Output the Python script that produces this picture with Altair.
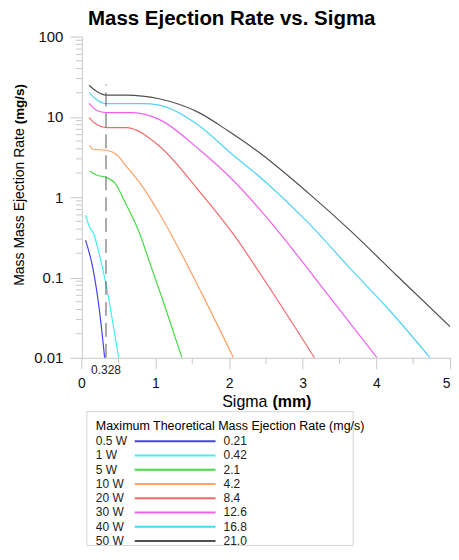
import altair as alt
import pandas as pd

FONT = "Liberation Sans"

series = ["0.5 W", "1 W", "5 W", "10 W", "20 W", "30 W", "40 W", "50 W"]
max_rates = ["0.21", "0.42", "2.1", "4.2", "8.4", "12.6", "16.8", "21.0"]
colors = ["#4444ee", "#44eeee", "#44dd44", "#ffa066", "#f46a6a", "#f060f0", "#4ed4f4", "#505050"]

x_05 = [0.05, 0.152, 0.242, 0.31]
y_05 = [0.292, 0.128, 0.037, 0.01]

x_1 = [0.05, 0.108, 0.152, 0.242, 0.332, 0.42, 0.50]
y_1 = [0.597, 0.42, 0.364, 0.187, 0.079, 0.0277, 0.01]

x_5 = [0.108, 0.198, 0.332, 0.444, 0.60, 0.78, 0.92, 1.14, 1.36]
y_5 = [2.12, 1.89, 1.76, 1.52, 0.818, 0.364, 0.155, 0.0406, 0.01]

x_10 = [0.108, 0.15, 0.332, 0.467, 0.60, 0.825, 1.05, 1.27, 1.63, 2.06]
y_10 = [4.47, 3.95, 3.84, 3.42, 2.45, 1.35, 0.63, 0.275, 0.063, 0.01]

x_20 = [0.098, 0.198, 0.332, 0.60, 1.05, 1.59, 2.04, 2.53, 3.16]
y_20 = [9.77, 8.07, 7.34, 7.34, 4.34, 1.2, 0.364, 0.079, 0.01]

x_30 = [0.098, 0.198, 0.332, 0.69, 1.05, 1.59, 2.04, 2.53, 3.07, 3.65, 4.01]
y_30 = [14.7, 12.1, 11.3, 11.3, 9.31, 3.95, 1.67, 0.533, 0.128, 0.0264, 0.01]

x_40 = [0.098, 0.198, 0.332, 0.825, 1.05, 1.59, 1.99, 2.53, 3.07, 3.65, 4.19, 4.73]
y_40 = [20.0, 16.5, 14.6, 14.6, 14.0, 7.8, 3.76, 1.45, 0.485, 0.128, 0.038, 0.01]

x_50 = [0.098, 0.198, 0.332, 0.60, 1.05, 1.59, 1.99, 2.40, 3.07, 3.65, 4.28, 5.0]
y_50 = [24.8, 20.9, 18.7, 18.7, 16.8, 11.3, 6.66, 3.65, 1.14, 0.381, 0.105, 0.0245]

xs = [x_05, x_1, x_5, x_10, x_20, x_30, x_40, x_50]
ys = [y_05, y_1, y_5, y_10, y_20, y_30, y_40, y_50]

marker_x = [0.328]
marker_top = [25.4]
marker_label = ["0.328"]

x_major = [1, 2, 3, 4, 5]
x_zero = [0]
x_minor = [0.5, 1.5, 2.5, 3.5, 4.5]
y_major = [0.01, 0.1, 1, 10, 100]
y_minor = [round(k * m, 6) for k in [0.01, 0.1, 1, 10] for m in range(2, 10)]

rows = []
for s, xv, yv in zip(series, xs, ys):
    for a, b in zip(xv, yv):
        rows.append({"series": s, "sigma": a, "rate": b})
df = pd.DataFrame(rows)

AX = "#c8c8c8"

x_enc = alt.X(
    "sigma:Q",
    scale=alt.Scale(domain=[0, 5], nice=False, zero=False),
    axis=alt.Axis(
        values=x_major, format="d", tickSize=11, labelFlush=True,
        tickColor=AX, domainColor=AX, grid=False,
        labelFont=FONT, labelFontSize=14, labelColor="#111",
        labelPadding=8, title=None,
    ),
)
y_enc = alt.Y(
    "rate:Q",
    scale=alt.Scale(type="log", domain=[0.01, 100], nice=False),
    axis=alt.Axis(
        values=y_major, format="~g", tickSize=12,
        tickColor=AX, domainColor=AX, grid=False,
        labelFont=FONT, labelFontSize=15, labelColor="#111",
        labelPadding=7, title=None,
    ),
)

color_scale = alt.Scale(domain=series, range=colors)

lines = alt.Chart(df).mark_line(strokeWidth=1.2, clip=True, interpolate="monotone").encode(
    x=x_enc, y=y_enc,
    color=alt.Color("series:N", scale=color_scale, legend=None),
)

yminor = alt.Chart(pd.DataFrame({"v": y_minor})).mark_rule(color=AX, strokeWidth=1).encode(
    y=alt.Y("v:Q"), x=alt.value(-6), x2=alt.value(0)
)
xminor = alt.Chart(pd.DataFrame({"v": x_minor})).mark_rule(color=AX, strokeWidth=1).encode(
    x=alt.X("v:Q"), y=alt.value(322), y2=alt.value(328)
)
zdf = pd.DataFrame({"v": x_zero, "t": [str(v) for v in x_zero]})
xzero_tick = alt.Chart(zdf).mark_rule(color=AX, strokeWidth=1).encode(
    x=alt.X("v:Q"), y=alt.value(322), y2=alt.value(333)
)
xzero_label = alt.Chart(zdf).mark_text(font=FONT, fontSize=14, color="#111", baseline="top").encode(
    x=alt.X("v:Q"), y=alt.value(341), text="t:N"
)

mdf = pd.DataFrame({"x": marker_x, "y1": [0.01], "y2": marker_top, "label": marker_label})
marker = alt.Chart(mdf).mark_rule(strokeDash=[14, 7], color="#555", strokeWidth=1).encode(
    x="x:Q", y="y1:Q", y2="y2:Q"
)
marker_text = alt.Chart(mdf).mark_text(font=FONT, fontSize=12, color="#222", baseline="middle").encode(
    x="x:Q", y=alt.value(334), text="label:N"
)

def label(txt, **kw):
    return alt.Chart(pd.DataFrame({"t": [txt]})).mark_text(font=FONT, color="#000", baseline="middle", **kw)

xt1 = label("Sigma", fontSize=16, align="right").encode(x=alt.value(186), y=alt.value(366), text="t:N")
xt2 = label("(mm)", fontSize=16, fontWeight="bold", align="left").encode(x=alt.value(191), y=alt.value(366), text="t:N")
yt1 = label("Mass Mass Ejection Rate", fontSize=14, angle=270, align="right").encode(x=alt.value(-62), y=alt.value(92), text="t:N")
yt2 = label("(mg/s)", fontSize=13.5, fontWeight="bold", angle=270, align="left").encode(x=alt.value(-62), y=alt.value(88), text="t:N")

main = alt.layer(lines, yminor, xminor, xzero_tick, xzero_label, marker, marker_text,
                 xt1, xt2, yt1, yt2).properties(width=369, height=322)

ldf = pd.DataFrame({"series": series, "rate": max_rates})
row_y = alt.Y("series:N", sort=series, axis=None, scale=alt.Scale(type="point", range=[29.5, 129.5], padding=0))

box = alt.Chart(pd.DataFrame({"a": [0]})).mark_rect(fillOpacity=0, stroke="#d4d4d4", strokeWidth=1).encode(
    x=alt.value(5), x2=alt.value(272), y=alt.value(0), y2=alt.value(134)
)
ltitle = label("Maximum Theoretical Mass Ejection Rate (mg/s)", fontSize=12.5, align="left").encode(
    x=alt.value(14), y=alt.value(14), text="t:N"
)
lrules = alt.Chart(ldf).mark_rule(strokeWidth=2).encode(
    x=alt.value(53), x2=alt.value(134), y=row_y,
    color=alt.Color("series:N", scale=color_scale, legend=None),
)
lnames = alt.Chart(ldf).mark_text(font=FONT, fontSize=12, align="left", baseline="middle", color="#222").encode(
    x=alt.value(14), y=row_y, text="series:N"
)
lvals = alt.Chart(ldf).mark_text(font=FONT, fontSize=12, align="left", baseline="middle", color="#222").encode(
    x=alt.value(142), y=row_y, text="rate:N"
)
legend = alt.layer(box, ltitle, lrules, lnames, lvals).properties(width=272, height=134)

chart = alt.vconcat(main, legend, spacing=1).resolve_scale(
    x="independent", y="independent"
).properties(
    title=alt.TitleParams("Mass Ejection Rate vs. Sigma", font=FONT, fontSize=20.5, fontWeight="bold",
                          color="#000", anchor="middle", offset=0),
    padding={"left": 5, "top": 0, "right": 0, "bottom": 0},
).configure_view(strokeWidth=0)

chart.save("out.html", embed_options={"renderer": "svg", "actions": False})
